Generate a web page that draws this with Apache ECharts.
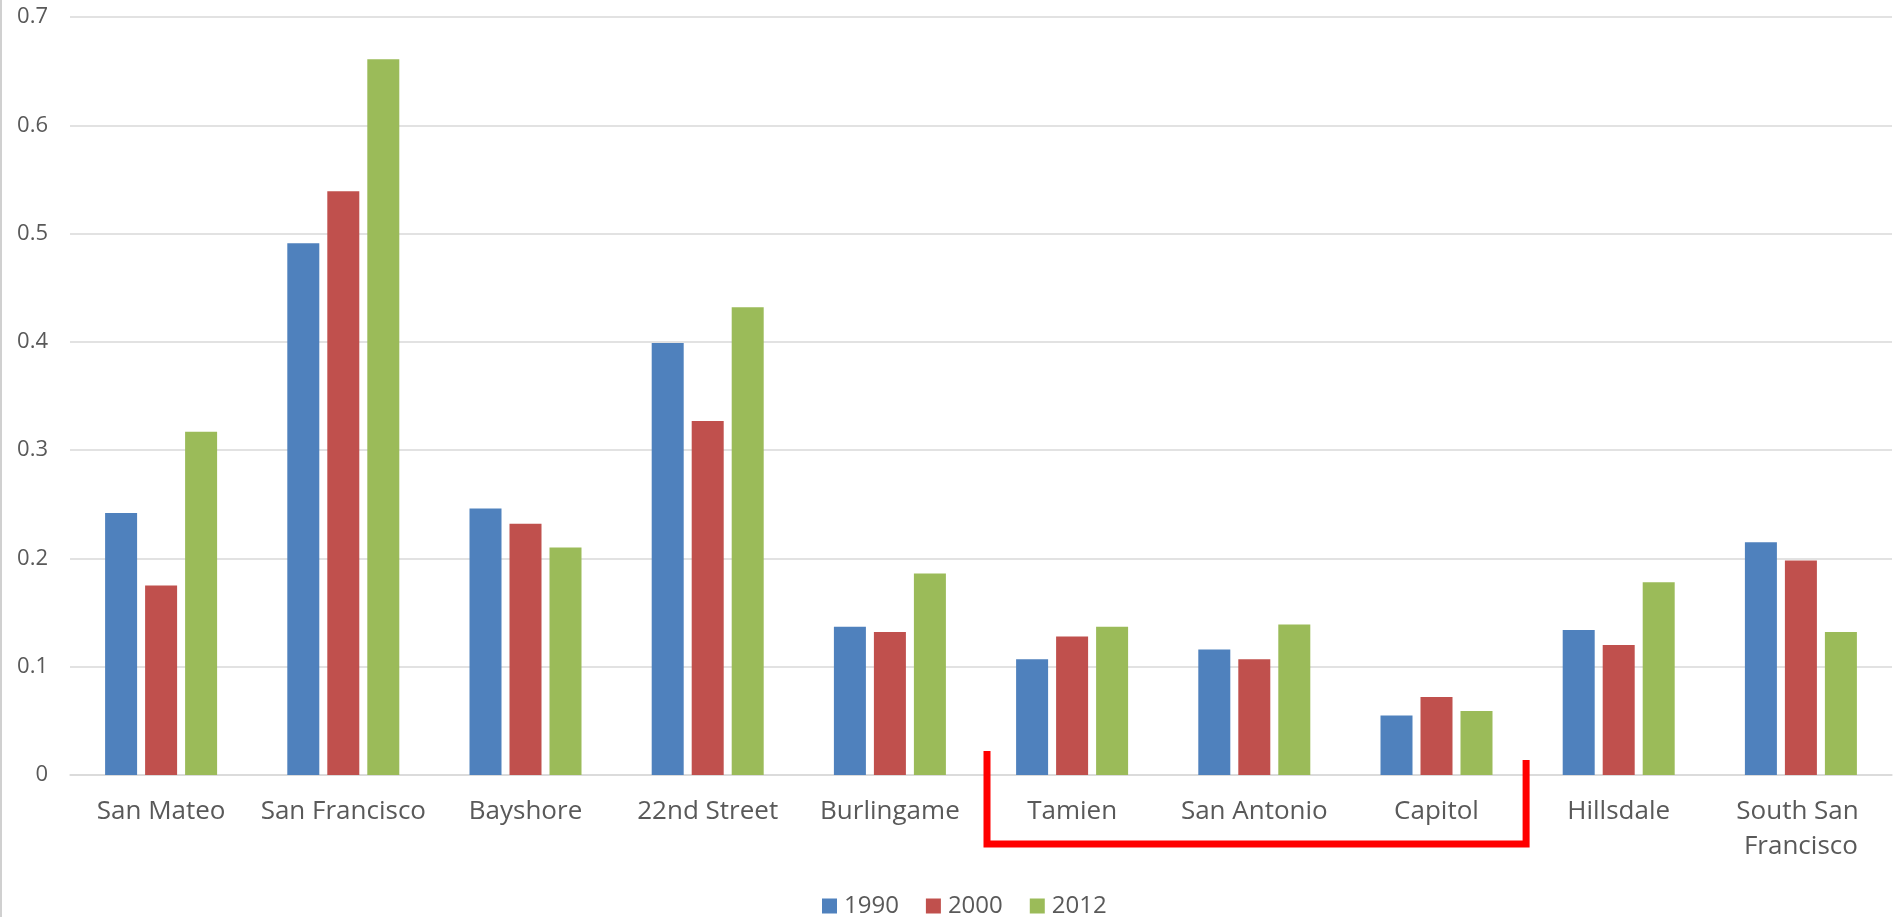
<!DOCTYPE html>
<html>
<head>
<meta charset="utf-8">
<style>
  html, body { margin: 0; padding: 0; background: #ffffff; }
  #chart { width: 1893px; height: 917px; }
</style>
<script src="https://cdn.jsdelivr.net/npm/echarts@6/dist/echarts.min.js"></script>
</head>
<body>
<div id="chart"></div>
<script>
// Stations along the corridor
const stations = ['San Mateo', 'San Francisco', 'Bayshore', '22nd Street', 'Burlingame',
                  'Tamien', 'San Antonio', 'Capitol', 'Hillsdale', 'South San Francisco'];

// Share per station for each year
const years = ['1990', '2000', '2012'];
const values1990 = [0.242, 0.491, 0.246, 0.399, 0.137, 0.107, 0.116, 0.055, 0.134, 0.215];
const values2000 = [0.175, 0.539, 0.232, 0.327, 0.132, 0.128, 0.107, 0.072, 0.120, 0.198];
const values2012 = [0.317, 0.661, 0.210, 0.432, 0.186, 0.137, 0.139, 0.059, 0.178, 0.132];

const yearColors = ['#4F81BD', '#C0504D', '#9BBB59'];

// Stations grouped by the red bracket (first and last index, inclusive)
const bracketFrom = 5;
const bracketTo = 7;

const FONT = "'Open Sans', 'Liberation Sans', sans-serif";
const TEXT = '#595959';
const GRID = '#d9d9d9';

const chart = echarts.init(document.getElementById('chart'), null, { renderer: 'canvas' });

const seriesData = [values1990, values2000, values2012];

chart.setOption({
  animation: false,
  backgroundColor: '#ffffff',
  color: yearColors,
  grid: { left: 70, right: 1, top: 17, bottom: 142, containLabel: false },
  legend: {
    data: years,
    left: 817,
    top: 889,
    itemWidth: 15,
    itemHeight: 15,
    itemGap: 27,
    icon: 'rect',
    textStyle: { fontFamily: FONT, fontSize: 24, color: TEXT, padding: [0, 0, 0, 2] }
  },
  xAxis: {
    type: 'category',
    data: stations,
    axisLine: { show: true, lineStyle: { color: GRID, width: 1.5 } },
    axisTick: { show: false },
    axisLabel: {
      interval: 0,
      margin: 19,
      fontFamily: FONT,
      fontSize: 26,
      lineHeight: 35,
      color: TEXT,
      width: 178,
      overflow: 'break'
    }
  },
  yAxis: {
    type: 'value',
    min: 0,
    max: 0.7,
    interval: 0.1,
    axisLine: { show: false },
    axisTick: { show: false },
    splitLine: { show: true, lineStyle: { color: GRID, width: 1.5 } },
    axisLabel: {
      margin: 22,
      fontFamily: FONT,
      fontSize: 22,
      color: TEXT,
      formatter: v => String(Math.round(v * 10) / 10)
    }
  },
  series: years.map((y, i) => ({
    name: y,
    type: 'bar',
    data: seriesData[i],
    barWidth: 32,
    barGap: '25%',
    itemStyle: { color: yearColors[i] }
  }))
});

// Red bracket under a group of stations, plus the left frame edge
function drawOverlay() {
  const step = chart.convertToPixel({ xAxisIndex: 0 }, 1) - chart.convertToPixel({ xAxisIndex: 0 }, 0);
  const xLeft = chart.convertToPixel({ xAxisIndex: 0 }, bracketFrom) - step / 2 + 6;
  const xRight = chart.convertToPixel({ xAxisIndex: 0 }, bracketTo) + step / 2 - 1.5;
  const base = chart.convertToPixel({ yAxisIndex: 0 }, 0);
  chart.setOption({
    graphic: [
      {
        type: 'polyline',
        silent: true,
        shape: {
          points: [
            [xLeft, base - 24],
            [xLeft, base + 69],
            [xRight, base + 69],
            [xRight, base - 15]
          ]
        },
        style: { stroke: '#ff0000', lineWidth: 7, fill: null, lineJoin: 'miter' },
        z: 100
      },
      {
        type: 'line',
        silent: true,
        shape: { x1: 1, y1: 0, x2: 1, y2: 917 },
        style: { stroke: '#d0d0d0', lineWidth: 2 },
        z: 100
      }
    ]
  });
}
drawOverlay();
</script>
</body>
</html>
